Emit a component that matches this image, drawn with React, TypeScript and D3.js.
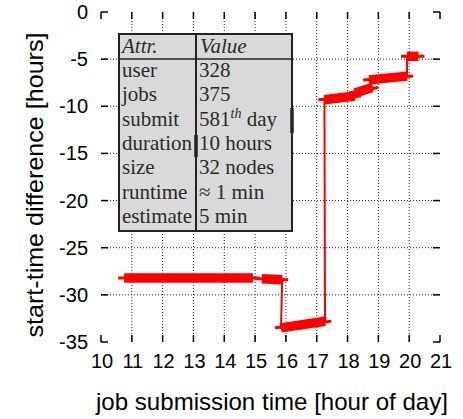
import React from 'react';
import * as d3 from 'd3';

// axis ticks
const xTicks = [10, 11, 12, 13, 14, 15, 16, 17, 18, 19, 20, 21];
const yTicks = [0, -5, -10, -15, -20, -25, -30, -35];

// dense runs of jobs (start / end of each run)
const runStartHour = [10.75, 15.22, 15.84, 17.25, 18.24, 18.7, 19.93];
const runEndHour = [14.93, 15.88, 17.27, 18.24, 18.8, 19.93, 20.3];
const runStartDiff = [-28.2, -28.3, -33.5, -9.3, -8.6, -7.2, -4.7];
const runEndDiff = [-28.2, -28.4, -32.8, -8.9, -8.0, -6.8, -4.7];

// table
const attrNames = ['user', 'jobs', 'submit', 'duration', 'size', 'runtime', 'estimate'];
const attrValues = ['328', '375', '581th day', '10 hours', '32 nodes', '≈ 1 min', '5 min'];

const W = 463;
const H = 419;
const margin = { left: 101, right: 23, top: 12, bottom: 77 };

export default function App() {
    const x = d3.scaleLinear().domain([10, 21]).range([margin.left, W - margin.right]);
    const y = d3.scaleLinear().domain([-35, 0]).range([H - margin.bottom, margin.top]);
    const [x0, x1] = x.range();
    const [y0, y1] = [y(0), y(-35)];

    const line = d3.line<[number, number]>().x(d => x(d[0])).y(d => y(d[1]));

    const thinPts: [number, number][] = [];
    runStartHour.forEach((h, i) => {
        thinPts.push([h, runStartDiff[i]]);
        thinPts.push([runEndHour[i], runEndDiff[i]]);
    });

    const tickLen = 7;
    const axisFont = '"Liberation Sans", Arial, sans-serif';
    const serif = '"Liberation Serif", "Times New Roman", serif';

    // table geometry
    const tb = { x: 119, y: 34, w: 173, h: 197, col: 196, head: 59 };
    const rowBase = (i: number) => 77 + i * 24.3;

    return (
        <svg width={W} height={H} style={{ position: 'absolute', left: 0, top: 0, background: '#fff' }}>
            {/* grid */}
            {xTicks.slice(1, -1).map(t => (
                <line key={'gx' + t} x1={x(t)} x2={x(t)} y1={y0} y2={y1}
                    stroke="#222" strokeWidth={1} strokeDasharray="1,2" />
            ))}
            {yTicks.slice(1, -1).map(t => (
                <line key={'gy' + t} x1={x0} x2={x1} y1={y(t)} y2={y(t)}
                    stroke="#222" strokeWidth={1} strokeDasharray="1,2" />
            ))}

            {/* ticks */}
            {xTicks.map(t => (
                <g key={'tx' + t}>
                    <line x1={x(t)} x2={x(t)} y1={y1} y2={y1 - tickLen} stroke="#000" strokeWidth={1.5} />
                    <line x1={x(t)} x2={x(t)} y1={y0} y2={y0 + tickLen} stroke="#000" strokeWidth={1.5} />
                    <text x={x(t) + 1} y={368} textAnchor="middle" fontFamily={axisFont} fontSize={20}>{t}</text>
                </g>
            ))}
            {yTicks.map(t => (
                <g key={'ty' + t}>
                    <line x1={x0} x2={x0 + tickLen} y1={y(t)} y2={y(t)} stroke="#000" strokeWidth={1.5} />
                    <line x1={x1} x2={x1 - tickLen} y1={y(t)} y2={y(t)} stroke="#000" strokeWidth={1.5} />
                    <text x={88} y={y(t) + 7} textAnchor="end" fontFamily={axisFont} fontSize={20}>{t}</text>
                </g>
            ))}

            {/* data */}
            <path d={line(thinPts) || ''} fill="none" stroke="#ff0000" strokeWidth={2} />
            {runStartHour.map((h, i) => {
                const a: [number, number] = [h, runStartDiff[i]];
                const b: [number, number] = [runEndHour[i], runEndDiff[i]];
                return (
                    <g key={'run' + i}>
                        <line x1={x(a[0]) - 6} x2={x(b[0]) + 6} y1={y(a[1])} y2={y(b[1])}
                            stroke="#ff0000" strokeWidth={3} />
                        <path d={line([a, b]) || ''} stroke="#ff0000" strokeWidth={9.5} fill="none" />
                    </g>
                );
            })}

            {/* frame */}
            <rect x={x0} y={y1} width={x1 - x0} height={y0 - y1} fill="none" stroke="#000" strokeWidth={2} />

            {/* attribute table */}
            <g fontFamily={serif} fontSize={21} fill="#2a2a2a">
                <rect x={tb.x} y={tb.y} width={tb.w} height={tb.h} fill="#d9d9d9" stroke="#222" strokeWidth={2} />
                <line x1={tb.x} x2={tb.x + tb.w} y1={tb.head} y2={tb.head} stroke="#222" strokeWidth={1.5} />
                <line x1={tb.col} x2={tb.col} y1={tb.y} y2={tb.y + tb.h} stroke="#222" strokeWidth={2} />
                <line x1={tb.col} x2={tb.col} y1={135} y2={157} stroke="#222" strokeWidth={3.5} />
                <line x1={tb.x + tb.w} x2={tb.x + tb.w} y1={108} y2={133} stroke="#222" strokeWidth={3.5} />
                <text x={tb.x + 3} y={53} fontStyle="italic">Attr.</text>
                <text x={tb.col + 4} y={53} fontStyle="italic">Value</text>
                {attrNames.map((n, i) => (
                    <text key={n} x={tb.x + 3} y={rowBase(i)}>{n}</text>
                ))}
                {attrValues.map((v, i) => {
                    if (v.includes('th')) {
                        const [num, rest] = v.split('th');
                        return (
                            <text key={v} x={tb.col + 3} y={rowBase(i)}>
                                {num}
                                <tspan fontSize={14} fontStyle="italic" dy={-8}>th</tspan>
                                <tspan dy={8}>{rest}</tspan>
                            </text>
                        );
                    }
                    return <text key={v} x={tb.col + 3} y={rowBase(i)}>{v}</text>;
                })}
            </g>

            {/* axis titles */}
            <text x={272} y={410} textAnchor="middle" fontFamily={axisFont} fontSize={24}
                textLength={352} lengthAdjust="spacingAndGlyphs">
                job submission time [hour of day]
            </text>
            <text transform={`translate(43,${(y0 + y1) / 2 + 8}) rotate(-90)`} textAnchor="middle"
                fontFamily={axisFont} fontSize={24} textLength={305} lengthAdjust="spacingAndGlyphs">
                start-time difference [hours]
            </text>
        </svg>
    );
}
